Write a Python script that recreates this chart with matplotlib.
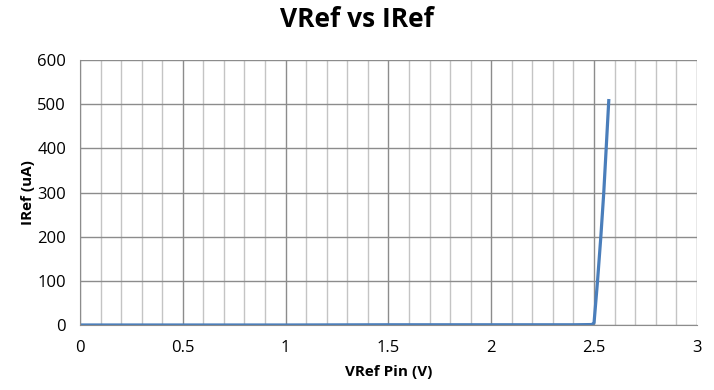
import numpy as np
import matplotlib.pyplot as plt

# valores
vref = [0.0, 0.5, 1.0, 1.5, 2.0, 2.4, 2.49, 2.5, 2.517, 2.533, 2.547, 2.559, 2.572]
iref = [0.0, 0.0, 0.0, 0.5, 0.5, 0.5, 1.0, 5.0, 100.0, 200.0, 298.0, 400.0, 512.0]

x_ticks = [0, 0.5, 1, 1.5, 2, 2.5, 3]
x_tick_labels = ['0', '0.5', '1', '1.5', '2', '2.5', '3']
y_ticks = [0, 100, 200, 300, 400, 500, 600]

plt.rcParams['font.family'] = ['Open Sans', 'DejaVu Sans']

fig = plt.figure(figsize=(7.14, 3.9), dpi=100)
ax = fig.add_axes([0.112, 0.1667, 0.864, 0.679])

# grade
ax.set_xticks(np.arange(0, 3.01, 0.1), minor=True)
ax.grid(which='minor', axis='x', color='#c4c4c4', linewidth=1.0)
ax.grid(which='major', axis='both', color='#8c8c8c', linewidth=1.0)
ax.set_axisbelow(True)

# curva
ax.plot(vref, iref, color='#4a7ebb', linewidth=2.3, solid_capstyle='butt')

ax.set_xlim(0, 3)
ax.set_ylim(0, 600)
ax.set_xticks(x_ticks)
ax.set_xticklabels(x_tick_labels)
ax.set_yticks(y_ticks)
ax.tick_params(which='both', length=0, labelsize=12, colors='black')
ax.tick_params(axis='x', pad=11)
ax.tick_params(axis='y', pad=10)

for side in ['top', 'right']:
    ax.spines[side].set_visible(False)
ax.spines['left'].set_color('#8c8c8c')
ax.spines['bottom'].set_color('#8c8c8c')

ax.set_xlabel('VRef Pin (V)', fontsize=11, fontweight='bold', labelpad=6)
ax.set_ylabel('IRef (uA)', fontsize=11, fontweight='bold')
ax.yaxis.set_label_coords(-0.073, 0.5)
fig.suptitle('VRef vs IRef', fontsize=19, fontweight='bold', x=0.5, y=0.985)

fig.savefig('out.png', dpi=100)
